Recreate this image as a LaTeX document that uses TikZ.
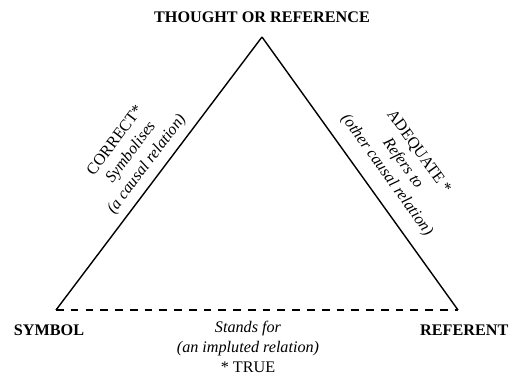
\documentclass[tikz,border=0pt]{standalone}
\usepackage{fontspec}
\setmainfont{Liberation Serif}
\usetikzlibrary{calc}
\tikzset{
	vertex/.style={font=\fontsize{11.5}{14}\selectfont\bfseries, inner sep=0pt},
	relation/.style={align=center, font=\fontsize{11.5}{14}\selectfont, inner sep=0pt}
}

\begin{document}
\begin{tikzpicture}[x=0.025cm, y=-0.025cm, line width=1pt]
			\useasboundingbox (0,0) rectangle (509,380);

			% Corners of the triangle
			\coordinate (top) at (262,37);
			\coordinate (sym) at (56,310);
			\coordinate (ref) at (458,310);

			% Labels at the corners
			\node[vertex] (thought) at (262,17) {THOUGHT OR REFERENCE};
			\node[vertex] (symbol) at (49,330) {SYMBOL};
			\node[vertex, anchor=east] (referent) at (509,330) {REFERENT};

			% Draw the two solid sides
			\draw (sym) -- (top) node[relation, midway, sloped, above=5pt] (correct)
				{CORRECT*\\\textit{Symbolises}\\\textit{(a causal relation)}};
			\draw (top) -- (ref) node[relation, pos=0.55, sloped, above=9pt] (adequate)
				{ADEQUATE *\\\textit{Refers to}\\\textit{(other causal relation)}};

			% Draw the dashed base
			\draw[dashed, dash pattern=on 5.5pt off 5pt] (sym) -- (ref);
			\node[relation] (standsfor) at (248,347)
				{\textit{Stands for}\\\textit{(an impluted relation)}\\* TRUE};

		\end{tikzpicture}
\end{document}
